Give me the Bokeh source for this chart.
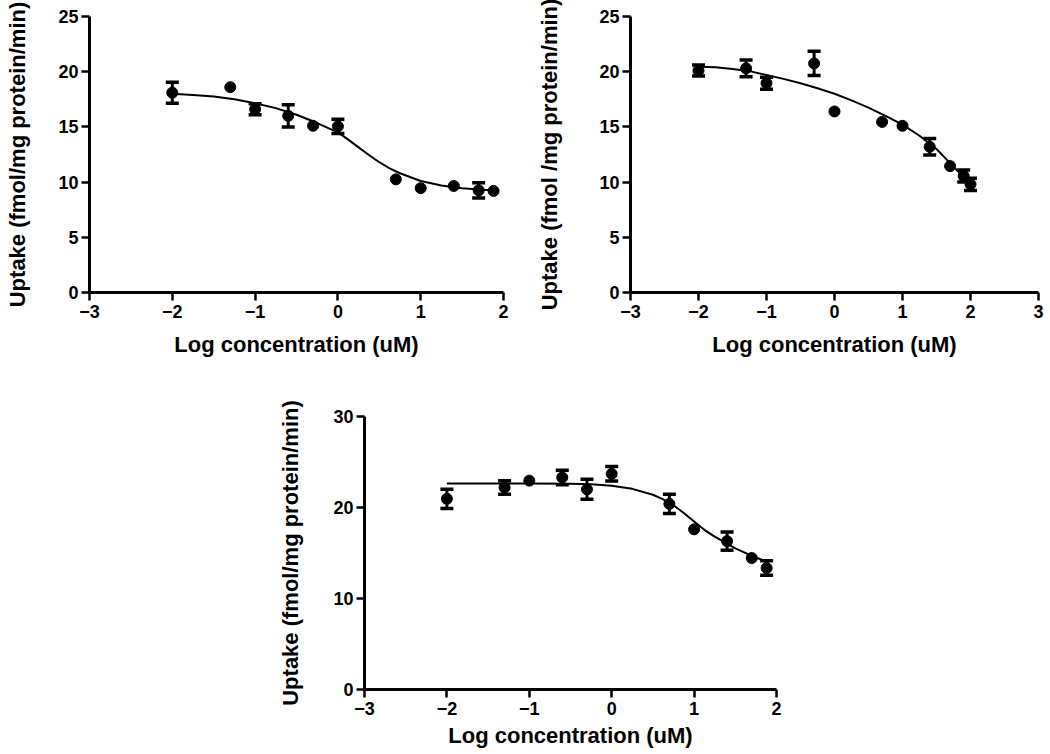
from bokeh.plotting import figure
from bokeh.layouts import column, row
from bokeh.models import Spacer, Whisker, ColumnDataSource, Range1d, FixedTicker, TeeHead
from bokeh.embed import file_html
from bokeh.resources import INLINE

# ---------------- data ----------------
# Panel 1 (top-left)
X1 = [-2, -1.3, -1, -0.6, -0.3, 0, 0.7, 1, 1.4, 1.7, 1.88]
Y1 = [18.1, 18.6, 16.6, 16.0, 15.1, 15.05, 10.25, 9.45, 9.65, 9.25, 9.2]
E1 = [0.95, 0, 0.5, 1.0, 0, 0.65, 0, 0, 0, 0.7, 0]
CX1 = [-2, -1.75, -1.5, -1.25, -1, -0.75, -0.5, -0.25, 0, 0.125, 0.25, 0.375, 0.5, 0.625, 0.75, 1, 1.25, 1.5, 1.75, 1.88]
CY1 = [18.0, 17.9, 17.75, 17.5, 17.15, 16.7, 16.1, 15.35, 14.5, 13.85, 13.15, 12.45, 11.8, 11.25, 10.8, 10.1, 9.7, 9.45, 9.3, 9.25]

# Panel 2 (top-right)
X2 = [-2, -1.3, -1, -0.3, 0, 0.7, 1, 1.4, 1.7, 1.9, 2]
Y2 = [20.1, 20.3, 18.95, 20.75, 16.4, 15.45, 15.1, 13.2, 11.45, 10.55, 9.8]
E2 = [0.5, 0.75, 0.55, 1.1, 0, 0, 0, 0.75, 0, 0.55, 0.55]
CX2 = [-2, -1.75, -1.5, -1.25, -1, -0.75, -0.5, -0.25, 0, 0.25, 0.5, 0.75, 1, 1.25, 1.5, 1.75, 2]
CY2 = [20.45, 20.4, 20.25, 20.05, 19.7, 19.35, 18.95, 18.5, 18.0, 17.4, 16.75, 16.0, 15.2, 14.2, 13.0, 11.4, 9.8]

# Panel 3 (bottom)
X3 = [-2, -1.3, -1, -0.6, -0.3, 0, 0.7, 1, 1.4, 1.7, 1.88]
Y3 = [20.95, 22.2, 22.95, 23.3, 22.0, 23.7, 20.4, 17.6, 16.3, 14.45, 13.35]
E3 = [1.05, 0.75, 0, 0.8, 1.1, 0.8, 1.05, 0, 1.0, 0, 0.8]
CX3 = [-2, -1.5, -1, -0.5, -0.25, 0, 0.25, 0.5, 0.625, 0.75, 0.875, 1.0, 1.125, 1.25, 1.5, 1.75, 1.88]
CY3 = [22.65, 22.65, 22.65, 22.6, 22.55, 22.4, 22.05, 21.4, 20.9, 20.25, 19.4, 18.45, 17.55, 16.8, 15.5, 14.5, 14.05]

X_TICKS_A = [-3, -2, -1, 0, 1, 2]
X_LABELS_A = ["\u22123", "\u22122", "\u22121", "0", "1", "2"]
X_TICKS_B = [-3, -2, -1, 0, 1, 2, 3]
X_LABELS_B = ["\u22123", "\u22122", "\u22121", "0", "1", "2", "3"]
Y_TICKS_A = [0, 5, 10, 15, 20, 25]
Y_TICKS_B = [0, 10, 20, 30]

X_TITLE = "Log concentration (uM)"
Y_TITLE_1 = "Uptake (fmol/mg protein/min)"
Y_TITLE_2 = "Uptake (fmol /mg protein/min)"
Y_TITLE_3 = "Uptake (fmol/mg protein/min)"

FONT = "Liberation Sans"


def panel(xs, ys, es, cx, cy, xr, yr, xticks, xlabels, yticks, ytitle,
          width, height, bl, br, bt, bb, ystand, xstand):
    p = figure(width=width, height=height, output_backend="svg", toolbar_location=None,
               x_range=Range1d(*xr), y_range=Range1d(*yr),
               min_border_left=bl, min_border_right=br, min_border_top=bt, min_border_bottom=bb)
    p.outline_line_color = None
    p.xgrid.visible = False
    p.ygrid.visible = False
    p.background_fill_color = "white"
    p.border_fill_color = "white"

    for ax in (p.xaxis[0], p.yaxis[0]):
        ax.axis_line_width = 3
        ax.axis_line_color = "black"
        ax.major_tick_line_width = 2.5
        ax.major_tick_line_color = "black"
        ax.major_tick_out = 8
        ax.major_tick_in = 0
        ax.minor_tick_line_color = None
        ax.major_label_text_font = FONT
        ax.major_label_text_font_size = "18px"
        ax.major_label_text_font_style = "bold"
        ax.major_label_text_color = "black"
        ax.axis_label_text_font = FONT
        ax.axis_label_text_font_size = "22px"
        ax.axis_label_text_font_style = "bold"
        ax.axis_label_text_color = "black"

    p.xaxis.ticker = FixedTicker(ticks=xticks)
    p.xaxis.major_label_overrides = {t: l for t, l in zip(xticks, xlabels)}
    p.xaxis.axis_label = X_TITLE
    p.xaxis.axis_label_standoff = xstand
    p.xaxis.major_label_standoff = 4

    p.yaxis.ticker = FixedTicker(ticks=yticks)
    p.yaxis.axis_label = ytitle
    p.yaxis.axis_label_standoff = ystand
    p.yaxis.major_label_standoff = 3

    # error bars (only where visible)
    bx = [x for x, e in zip(xs, es) if e > 0]
    lo = [y - e for y, e in zip(ys, es) if e > 0]
    hi = [y + e for y, e in zip(ys, es) if e > 0]
    esrc = ColumnDataSource(dict(base=bx, lower=lo, upper=hi))
    w = Whisker(source=esrc, base="base", lower="lower", upper="upper",
                line_color="black", line_width=3,
                upper_head=TeeHead(size=13, line_width=3.5, line_color="black"),
                lower_head=TeeHead(size=13, line_width=3.5, line_color="black"))
    p.add_layout(w)

    p.line(cx, cy, line_color="black", line_width=2)
    p.scatter(xs, ys, size=11, marker="circle", fill_color="black", line_color="black")
    return p


p1 = panel(X1, Y1, E1, CX1, CY1, (-3, 2), (0, 25), X_TICKS_A, X_LABELS_A, Y_TICKS_A, Y_TITLE_1,
           width=520, height=378, bl=89, br=17, bt=16, bb=86, ystand=25, xstand=11)
p2 = panel(X2, Y2, E2, CX2, CY2, (-3, 3), (0, 25), X_TICKS_B, X_LABELS_B, Y_TICKS_A, Y_TITLE_2,
           width=528, height=378, bl=110, br=10, bt=16, bb=86, ystand=34, xstand=11)
p3 = panel(X3, Y3, E3, CX3, CY3, (-3, 2), (0, 30), X_TICKS_A, X_LABELS_A, Y_TICKS_B, Y_TITLE_3,
           width=530, height=374, bl=94, br=24, bt=38, bb=63, ystand=27, xstand=5)

layout = column(row(p1, p2), row(Spacer(width=270, height=374), p3))

open("out.html", "w").write(file_html(layout, INLINE))
